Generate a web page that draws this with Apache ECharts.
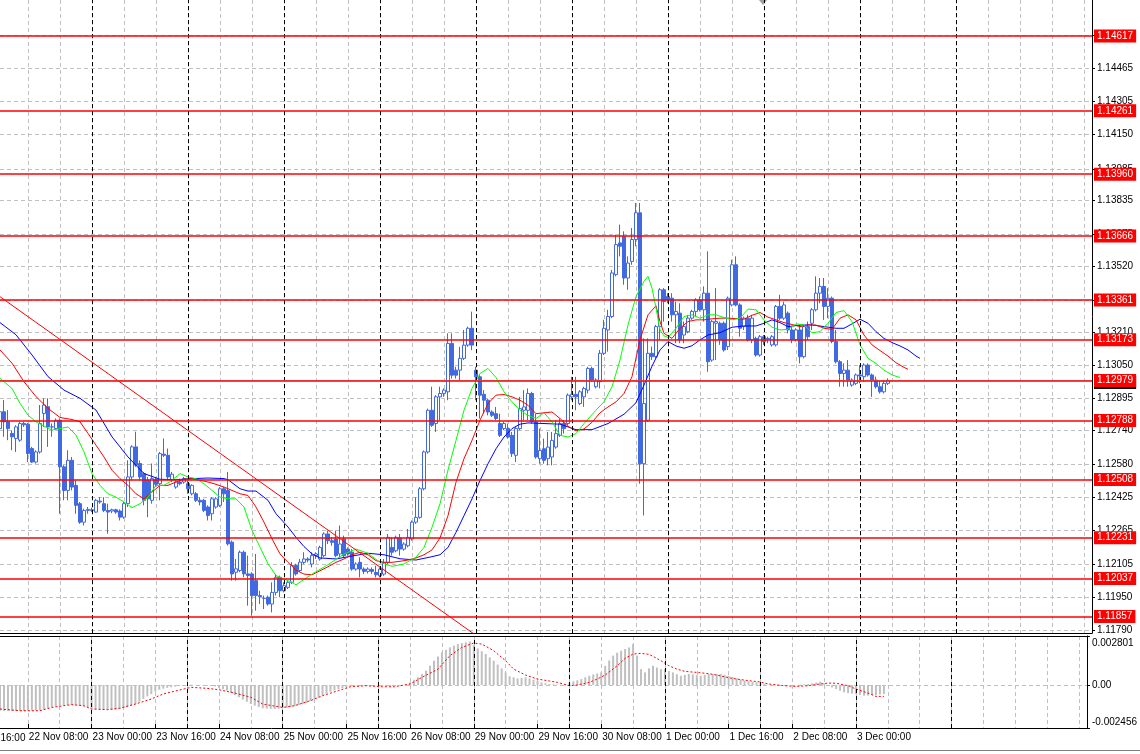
<!DOCTYPE html>
<html><head><meta charset="utf-8">
<script src="https://cdn.jsdelivr.net/npm/echarts@6/dist/echarts.min.js"></script>
<style>html,body{margin:0;padding:0;background:#fff;overflow:hidden}#c{width:1140px;height:754px}</style>
</head><body><div id="c"></div>
<script>
// ---- time axis (H1 bars, index 0 = 22 Nov 01:00) ----
const timeLabels = ['22 Nov 08:00','23 Nov 00:00','23 Nov 16:00','24 Nov 08:00','25 Nov 00:00','25 Nov 16:00','26 Nov 08:00','29 Nov 00:00','29 Nov 16:00','30 Nov 08:00','1 Dec 00:00','1 Dec 16:00','2 Dec 08:00','3 Dec 00:00'];
const timeLabelIdx = [7,23,39,55,71,87,103,119,135,151,167,183,199,215];
const offscreenLabel = '19 Nov 16:00';
const daySeparatorIdx = [23,47,71,95,119,143,167,191,215,239];
const slotCount = 274;

// ---- price axis ----
const priceTicks = [1.11790,1.11950,1.12105,1.12265,1.12425,1.12580,1.12740,1.12895,1.13050,1.13210,1.13360,1.13520,1.13675,1.13835,1.13985,1.14150,1.14305,1.14465,1.14620];
const priceMin = 1.11778, priceMax = 1.14788;
const levels = [1.14617,1.14261,1.13960,1.13666,1.13361,1.13173,1.12979,1.12788,1.12508,1.12231,1.12037,1.11857];
const bidPrice = 1.12979;
const macdTicks = [-0.002456, 0, 0.002801];

// ---- candles ----
const opens = [
1.12750,1.12830,1.12782,1.12727,1.12703,1.12695,1.12774,1.12771,1.12655,1.12591,
1.12639,1.12822,1.12854,1.12758,1.12750,1.12790,1.12568,1.12456,1.12599,1.12480,
1.12393,1.12305,1.12361,1.12364,1.12353,1.12405,1.12393,1.12361,1.12358,1.12364,
1.12358,1.12329,1.12393,1.12520,1.12663,1.12584,1.12536,1.12504,1.12409,1.12507,
1.12488,1.12628,1.12623,1.12507,1.12472,1.12496,1.12496,1.12488,1.12440,1.12440,
1.12409,1.12409,1.12377,1.12345,1.12377,1.12385,1.12464,1.12456,1.12210,1.12067,
1.12075,1.12162,1.12059,1.12059,1.12027,1.11956,1.11943,1.11948,1.11916,1.11971,
1.12043,1.11979,1.11995,1.12019,1.12099,1.12075,1.12114,1.12130,1.12106,1.12146,
1.12130,1.12146,1.12249,1.12217,1.12225,1.12154,1.12225,1.12177,1.12162,1.12082,
1.12114,1.12082,1.12071,1.12080,1.12066,1.12050,1.12058,1.12114,1.12185,1.12169,
1.12230,1.12177,1.12193,1.12225,1.12305,1.12328,1.12464,1.12639,1.12837,1.12774,
1.12901,1.12917,1.12925,1.13155,1.13028,1.13028,1.13084,1.13147,1.13227,1.13028,
1.12996,1.12913,1.12885,1.12829,1.12821,1.12774,1.12750,1.12750,1.12718,1.12623,
1.12750,1.12837,1.12837,1.12917,1.12782,1.12607,1.12654,1.12607,1.12615,1.12662,
1.12718,1.12774,1.12774,1.12901,1.12913,1.12869,1.12901,1.12933,1.13036,1.12949,
1.12973,1.13108,1.13219,1.13283,1.13482,1.13633,1.13664,1.13466,1.13545,1.13649,
1.13776,1.12583,1.12790,1.13108,1.13092,1.13235,1.13410,1.13378,1.13370,1.13291,
1.13299,1.13195,1.13211,1.13275,1.13307,1.13362,1.13315,1.13394,1.13076,1.13251,
1.13251,1.13251,1.13140,1.13338,1.13529,1.13338,1.13235,1.13275,1.13172,1.13179,
1.13100,1.13187,1.13175,1.13148,1.13148,1.13331,1.13275,1.13299,1.13219,1.13172,
1.13219,1.13092,1.13235,1.13251,1.13315,1.13394,1.13426,1.13331,1.13370,1.13164,
1.13068,1.13012,1.13028,1.12957,1.12965,1.13005,1.12997,1.13052,1.13005,1.12981,
1.12949,1.12925,1.12965];
const closes = [
1.12830,1.12782,1.12750,1.12711,1.12758,1.12774,1.12768,1.12631,1.12591,1.12639,
1.12774,1.12862,1.12758,1.12758,1.12790,1.12568,1.12456,1.12599,1.12472,1.12385,
1.12305,1.12361,1.12366,1.12361,1.12409,1.12401,1.12361,1.12353,1.12364,1.12353,
1.12329,1.12393,1.12520,1.12663,1.12576,1.12520,1.12409,1.12416,1.12512,1.12485,
1.12631,1.12623,1.12520,1.12533,1.12496,1.12488,1.12512,1.12464,1.12480,1.12409,
1.12401,1.12361,1.12337,1.12416,1.12416,1.12464,1.12440,1.12202,1.12059,1.12083,
1.12162,1.12059,1.12051,1.11956,1.11956,1.11951,1.11943,1.11916,1.11971,1.12043,
1.11979,1.12003,1.12019,1.12099,1.12059,1.12115,1.12130,1.12125,1.12146,1.12154,
1.12185,1.12249,1.12217,1.12209,1.12146,1.12201,1.12146,1.12154,1.12082,1.12106,
1.12082,1.12071,1.12082,1.12071,1.12055,1.12082,1.12114,1.12233,1.12162,1.12233,
1.12177,1.12201,1.12233,1.12305,1.12328,1.12464,1.12639,1.12837,1.12766,1.12901,
1.12917,1.12933,1.13155,1.13004,1.13004,1.13084,1.13147,1.13227,1.13147,1.12996,
1.12909,1.12885,1.12829,1.12813,1.12798,1.12718,1.12774,1.12710,1.12631,1.12750,
1.12845,1.12853,1.12917,1.12782,1.12615,1.12646,1.12599,1.12662,1.12694,1.12726,
1.12774,1.12750,1.12909,1.12913,1.12901,1.12925,1.12941,1.13036,1.12981,1.12981,
1.13108,1.13227,1.13283,1.13490,1.13625,1.13617,1.13466,1.13537,1.13649,1.13776,
1.12583,1.12869,1.13108,1.13092,1.13235,1.13410,1.13354,1.13362,1.13291,1.13307,
1.13172,1.13235,1.13275,1.13307,1.13362,1.13315,1.13394,1.13068,1.13259,1.13259,
1.13172,1.13124,1.13370,1.13529,1.13338,1.13227,1.13275,1.13172,1.13275,1.13100,
1.13187,1.13164,1.13179,1.13187,1.13331,1.13275,1.13338,1.13219,1.13172,1.13219,
1.13092,1.13235,1.13187,1.13315,1.13394,1.13426,1.13331,1.13370,1.13164,1.13068,
1.13012,1.13028,1.12981,1.12981,1.13005,1.13000,1.13052,1.13005,1.12981,1.12949,
1.12925,1.12965,1.12979];
const lows = [
1.12727,1.12711,1.12695,1.12647,1.12639,1.12687,1.12758,1.12591,1.12586,1.12584,
1.12631,1.12758,1.12663,1.12711,1.12742,1.12345,1.12409,1.12409,1.12456,1.12345,
1.12297,1.12289,1.12345,1.12353,1.12350,1.12393,1.12353,1.12250,1.12348,1.12345,
1.12313,1.12321,1.12377,1.12504,1.12568,1.12504,1.12385,1.12329,1.12393,1.12472,
1.12409,1.12615,1.12504,1.12496,1.12464,1.12480,1.12488,1.12440,1.12432,1.12401,
1.12385,1.12353,1.12313,1.12313,1.12369,1.12377,1.12401,1.12194,1.12027,1.12027,
1.12067,1.12043,1.11908,1.11860,1.11884,1.11916,1.11892,1.11908,1.11876,1.11956,
1.11948,1.11971,1.11987,1.12011,1.12051,1.12067,1.12106,1.12114,1.12090,1.12130,
1.12122,1.12138,1.12201,1.12193,1.12138,1.12138,1.12138,1.12146,1.12074,1.12074,
1.12042,1.12058,1.12061,1.12058,1.12042,1.12042,1.12050,1.12106,1.12146,1.12162,
1.12146,1.12169,1.12185,1.12217,1.12297,1.12321,1.12456,1.12631,1.12758,1.12734,
1.12790,1.12901,1.12885,1.12988,1.12988,1.12980,1.13076,1.13139,1.13123,1.12885,
1.12798,1.12821,1.12813,1.12805,1.12790,1.12710,1.12742,1.12702,1.12615,1.12591,
1.12742,1.12790,1.12790,1.12774,1.12607,1.12583,1.12583,1.12575,1.12575,1.12654,
1.12710,1.12726,1.12766,1.12885,1.12837,1.12861,1.12853,1.12917,1.12973,1.12941,
1.12941,1.13100,1.13116,1.13275,1.13474,1.13569,1.13434,1.13410,1.13529,1.13617,
1.12488,1.12337,1.12782,1.13076,1.13084,1.13172,1.13259,1.13346,1.13259,1.13156,
1.13156,1.13156,1.13203,1.13267,1.13283,1.13307,1.13259,1.13020,1.13068,1.13076,
1.13148,1.13116,1.13124,1.13331,1.13331,1.13187,1.13219,1.13164,1.13156,1.13092,
1.13092,1.13148,1.13156,1.13140,1.13140,1.13267,1.13267,1.13203,1.13156,1.13164,
1.13060,1.13084,1.13172,1.13219,1.13307,1.13346,1.13267,1.13275,1.13156,1.13060,
1.12949,1.12949,1.12949,1.12949,1.12957,1.12965,1.12973,1.12997,1.12901,1.12941,
1.12917,1.12917,1.12957];
const highs = [
1.12854,1.12886,1.12838,1.12742,1.12766,1.12782,1.12782,1.12777,1.12663,1.12647,
1.12862,1.12894,1.12894,1.12774,1.12798,1.12798,1.12576,1.12647,1.12615,1.12504,
1.12401,1.12369,1.12377,1.12374,1.12416,1.12424,1.12424,1.12393,1.12369,1.12369,
1.12366,1.12401,1.12599,1.12671,1.12735,1.12599,1.12544,1.12520,1.12584,1.12520,
1.12639,1.12703,1.12655,1.12544,1.12504,1.12512,1.12520,1.12504,1.12485,1.12448,
1.12424,1.12416,1.12385,1.12424,1.12424,1.12472,1.12472,1.12544,1.12218,1.12130,
1.12170,1.12170,1.12146,1.12067,1.12154,1.11979,1.11956,1.11956,1.12019,1.12059,
1.12051,1.12019,1.12027,1.12115,1.12107,1.12130,1.12162,1.12138,1.12162,1.12162,
1.12193,1.12257,1.12265,1.12233,1.12265,1.12289,1.12241,1.12185,1.12177,1.12114,
1.12138,1.12090,1.12090,1.12090,1.12098,1.12090,1.12130,1.12249,1.12233,1.12241,
1.12249,1.12209,1.12273,1.12313,1.12424,1.12472,1.12646,1.12845,1.12949,1.12909,
1.12949,1.12941,1.13203,1.13203,1.13044,1.13139,1.13219,1.13235,1.13306,1.13044,
1.13004,1.12933,1.12893,1.12837,1.12853,1.12821,1.12782,1.12774,1.12734,1.12758,
1.12901,1.12933,1.12941,1.12925,1.12821,1.12750,1.12702,1.12734,1.12734,1.12790,
1.12798,1.12790,1.12917,1.12996,1.12996,1.12933,1.12949,1.13044,1.13044,1.12989,
1.13124,1.13267,1.13315,1.13505,1.13672,1.13720,1.13688,1.13569,1.13704,1.13823,
1.13823,1.13179,1.13179,1.13140,1.13243,1.13418,1.13418,1.13394,1.13394,1.13354,
1.13346,1.13259,1.13291,1.13315,1.13370,1.13378,1.13426,1.13593,1.13267,1.13418,
1.13259,1.13259,1.13378,1.13553,1.13569,1.13346,1.13283,1.13291,1.13291,1.13187,
1.13195,1.13195,1.13187,1.13195,1.13338,1.13386,1.13354,1.13307,1.13235,1.13227,
1.13243,1.13243,1.13259,1.13323,1.13474,1.13466,1.13466,1.13418,1.13378,1.13219,
1.13076,1.13060,1.13076,1.12989,1.13012,1.13052,1.13060,1.13060,1.13012,1.12997,
1.12981,1.12981,1.12989];

// ---- Alligator-style moving averages, read as [bar index, price] ----
const maGreen = [[0,1.12989],[3,1.12941],[5,1.12870],[7,1.12814],[9,1.12782],[11,1.12762],[13,1.12743],[15,1.12750],[17,1.12758],[19,1.12719],[21,1.12639],[23,1.12536],[25,1.12480],[27,1.12440],[29,1.12424],[31,1.12401],[33,1.12374],[35,1.12393],[37,1.12424],[39,1.12480],[41,1.12480],[43,1.12504],[45,1.12536],[47,1.12520],[49,1.12512],[51,1.12488],[53,1.12456],[55,1.12424],[57,1.12416],[59,1.12416],[61,1.12377],[63,1.12266],[65,1.12186],[67,1.12107],[69,1.12051],[71,1.12035],[73,1.12019],[74,1.12007],[78,1.12058],[82,1.12103],[86,1.12154],[89,1.12177],[92,1.12157],[95,1.12114],[98,1.12095],[101,1.12106],[104,1.12138],[106,1.12185],[108,1.12281],[110,1.12392],[112,1.12553],[114,1.12694],[116,1.12837],[118,1.12941],[120,1.13012],[122,1.13036],[124,1.12993],[126,1.12925],[128,1.12877],[130,1.12837],[132,1.12813],[134,1.12798],[136,1.12825],[138,1.12782],[140,1.12718],[142,1.12710],[144,1.12726],[146,1.12774],[149,1.12838],[151,1.12877],[153,1.12949],[155,1.13076],[157,1.13243],[159,1.13378],[161,1.13450],[162,1.13474],[163,1.13418],[164,1.13323],[165,1.13219],[166,1.13191],[167,1.13184],[169,1.13227],[171,1.13283],[173,1.13291],[175,1.13275],[177,1.13291],[179,1.13291],[181,1.13278],[183,1.13267],[185,1.13275],[187,1.13318],[189,1.13315],[191,1.13267],[193,1.13232],[195,1.13219],[197,1.13222],[199,1.13248],[201,1.13243],[203,1.13206],[205,1.13211],[207,1.13251],[209,1.13302],[211,1.13311],[213,1.13259],[215,1.13148],[217,1.13084],[219,1.13060],[221,1.13028],[223,1.13005],[225,1.12993]];
const maRed = [[0,1.13124],[3,1.13061],[6,1.12973],[9,1.12902],[12,1.12846],[15,1.12803],[18,1.12793],[20,1.12782],[22,1.12727],[24,1.12671],[26,1.12615],[28,1.12552],[30,1.12512],[32,1.12480],[34,1.12440],[36,1.12416],[38,1.12448],[40,1.12480],[42,1.12480],[44,1.12496],[46,1.12509],[48,1.12512],[50,1.12504],[52,1.12496],[54,1.12485],[56,1.12472],[58,1.12456],[60,1.12440],[62,1.12432],[64,1.12377],[66,1.12305],[68,1.12226],[70,1.12154],[72,1.12114],[74,1.12077],[76,1.12058],[78,1.12055],[80,1.12074],[82,1.12093],[84,1.12114],[86,1.12130],[88,1.12150],[90,1.12162],[92,1.12150],[94,1.12122],[96,1.12114],[98,1.12114],[100,1.12119],[102,1.12125],[104,1.12135],[106,1.12150],[108,1.12173],[110,1.12230],[112,1.12336],[114,1.12495],[116,1.12607],[118,1.12694],[120,1.12790],[122,1.12869],[124,1.12909],[126,1.12912],[128,1.12901],[130,1.12885],[132,1.12861],[134,1.12821],[136,1.12825],[138,1.12829],[140,1.12798],[142,1.12761],[144,1.12739],[146,1.12748],[148,1.12780],[150,1.12825],[152,1.12853],[154,1.12877],[156,1.12917],[158,1.12997],[160,1.13172],[162,1.13291],[164,1.13334],[165,1.13259],[166,1.13203],[168,1.13179],[170,1.13227],[172,1.13259],[174,1.13267],[176,1.13267],[178,1.13272],[180,1.13275],[182,1.13275],[184,1.13273],[186,1.13270],[188,1.13289],[190,1.13302],[192,1.13280],[194,1.13267],[196,1.13254],[198,1.13245],[200,1.13235],[202,1.13243],[204,1.13242],[206,1.13227],[208,1.13222],[210,1.13275],[212,1.13291],[214,1.13267],[216,1.13195],[218,1.13148],[220,1.13121],[222,1.13095],[224,1.13063],[226,1.13041],[227,1.13032]];
const maBlue = [[0,1.13254],[4,1.13196],[8,1.13100],[12,1.12997],[16,1.12933],[20,1.12894],[24,1.12838],[28,1.12711],[32,1.12615],[36,1.12536],[40,1.12509],[44,1.12507],[48,1.12512],[52,1.12515],[56,1.12512],[57,1.12507],[60,1.12464],[62,1.12453],[64,1.12453],[67,1.12409],[69,1.12345],[72,1.12282],[74,1.12233],[76,1.12189],[78,1.12154],[80,1.12135],[84,1.12130],[88,1.12144],[92,1.12157],[96,1.12150],[100,1.12131],[104,1.12125],[108,1.12141],[110,1.12150],[112,1.12185],[114,1.12257],[116,1.12336],[118,1.12416],[120,1.12503],[122,1.12583],[124,1.12654],[126,1.12710],[128,1.12750],[130,1.12771],[132,1.12777],[136,1.12774],[140,1.12771],[144,1.12745],[148,1.12745],[152,1.12774],[156,1.12818],[159,1.12873],[161,1.12957],[163,1.13047],[165,1.13124],[167,1.13164],[169,1.13143],[171,1.13132],[173,1.13144],[175,1.13172],[177,1.13195],[180,1.13206],[183,1.13232],[186,1.13238],[189,1.13238],[191,1.13251],[193,1.13267],[195,1.13254],[197,1.13235],[200,1.13242],[203,1.13243],[206,1.13235],[209,1.13227],[211,1.13227],[213,1.13248],[215,1.13270],[217,1.13251],[219,1.13211],[221,1.13179],[223,1.13159],[225,1.13143],[227,1.13124],[229,1.13095],[230,1.13084]];
const trendLine = [[0,1.13377],[120,1.11753]];

// ---- MACD ----
const macdHist = [
-0.00147,-0.00148,-0.00148,-0.00149,-0.00149,-0.00149,-0.00148,-0.00147,-0.00146,-0.00146,-0.00145,
-0.00140,-0.00132,-0.00126,-0.00122,-0.00118,-0.00116,-0.00114,
-0.00114,-0.00116,-0.00119,-0.00122,-0.00127,-0.00132,-0.00137,
-0.00139,-0.00140,-0.00141,-0.00141,-0.00140,-0.00137,-0.00133,-0.00126,-0.00118,
-0.00109,-0.00095,-0.00080,-0.00065,-0.00052,-0.00038,-0.00027,-0.00021,-0.00016,
-0.00013,-0.00009,-0.00006,-0.00004,-0.00002,0.00002,0.00001,0.00000,-0.00002,-0.00004,
-0.00006,-0.00008,-0.00016,-0.00024,-0.00032,-0.00045,-0.00058,-0.00070,
-0.00083,-0.00096,-0.00109,-0.00118,-0.00126,-0.00133,-0.00135,-0.00136,-0.00137,-0.00135,
-0.00133,-0.00131,-0.00127,-0.00122,-0.00116,-0.00110,-0.00103,-0.00092,-0.00081,-0.00070,
-0.00059,-0.00048,-0.00038,-0.00031,-0.00024,-0.00017,-0.00013,-0.00009,-0.00006,-0.00005,-0.00004,-0.00004,
-0.00004,-0.00004,-0.00004,-0.00005,-0.00006,-0.00008,-0.00005,-0.00002,0.00000,0.00007,
0.00015,0.00030,0.00044,0.00063,0.00082,0.00110,0.00139,0.00163,0.00187,0.00201,0.00215,0.00225,0.00234,0.00239,0.00244,0.00248,
0.00228,0.00209,0.00193,0.00177,0.00158,0.00139,0.00117,0.00095,0.00072,0.00050,0.00044,0.00038,0.00041,0.00044,0.00037,0.00030,0.00023,0.00015,0.00010,0.00006,
0.00004,0.00002,0.00002,0.00006,0.00015,0.00021,0.00027,0.00034,0.00044,0.00053,0.00060,0.00066,0.00072,0.00110,0.00140,0.00168,0.00185,0.00196,0.00206,0.00215,0.00234,
0.00168,0.00091,0.00072,0.00095,0.00110,0.00100,0.00091,0.00091,0.00080,0.00072,0.00062,0.00053,0.00058,0.00063,0.00060,0.00056,0.00053,0.00058,0.00063,0.00063,0.00063,
0.00063,0.00058,0.00053,0.00046,0.00039,0.00032,0.00025,0.00021,0.00018,0.00015,0.00010,0.00006,0.00002,0.00001,0.00000,0.00000,0.00000,0.00000,-0.00001,0.00000,
0.00002,0.00004,0.00006,0.00010,0.00015,0.00019,0.00010,-0.00004,-0.00014,-0.00023,-0.00033,-0.00042,-0.00046,-0.00049,-0.00051,-0.00056,-0.00061,-0.00060,-0.00058,-0.00057,-0.00054,-0.00051];
const macdSignal = [[0,-0.00137],[5,-0.00147],[10,-0.00147],[13,-0.00128],[18,-0.00112],[21,-0.00118],[23,-0.00137],[27,-0.00141],[30,-0.00133],[34,-0.00109],[38,-0.00080],[41,-0.00051],[45,-0.00029],[48,-0.00013],[52,-0.00019],[55,-0.00027],[59,-0.00046],[63,-0.00070],[66,-0.00109],[71,-0.00128],[74,-0.00118],[78,-0.00089],[81,-0.00061],[85,-0.00032],[88,-0.00010],[92,-0.00004],[96,-0.00010],[99,-0.00010],[103,0.00006],[106,0.00044],[110,0.00091],[113,0.00168],[116,0.00215],[119,0.00240],[121,0.00234],[124,0.00196],[127,0.00139],[129,0.00091],[132,0.00057],[135,0.00034],[138,0.00023],[140,0.00015],[143,-0.00004],[145,0.0],[148,0.00015],[150,0.00034],[152,0.00057],[155,0.00110],[157,0.00152],[159,0.00177],[161,0.00181],[163,0.00175],[164,0.00164],[166,0.00139],[168,0.00110],[170,0.00091],[172,0.00078],[175,0.00072],[178,0.00065],[180,0.00057],[183,0.00042],[185,0.00034],[188,0.00025],[191,0.00017],[193,0.00006],[197,-0.00004],[200,-0.00008],[203,-0.00004],[206,0.00006],[208,0.00011],[210,0.00010],[213,-0.00004],[215,-0.00023],[218,-0.00046],[220,-0.00065],[222,-0.00065]];

// ---------------- build ----------------
const FONT = 'Liberation Sans';
const cats = new Array(slotCount).fill('');
timeLabelIdx.forEach((k, j) => { cats[k] = timeLabels[j]; });
const labelSet = new Set(timeLabelIdx);
const candles = opens.map((o, i) => [o, closes[i], lows[i], highs[i]]);
const gridV = { show: true, interval: (i) => i % 8 === 7, lineStyle: { color: '#c0c0c0', type: [4, 3], width: 1 } };
const sepLines = daySeparatorIdx.map(k => ({ xAxis: k }));

const chart = echarts.init(document.getElementById('c'), null, { renderer: 'canvas' });
chart.setOption({
  animation: false,
  backgroundColor: '#ffffff',
  grid: [
    { left: 0, right: 48, top: 0, height: 633 },
    { left: 0, right: 48, top: 636, height: 92 }
  ],
  xAxis: [
    { type: 'category', gridIndex: 0, data: cats, boundaryGap: false,
      axisLine: { show: true, onZero: false, lineStyle: { color: '#000', width: 1 } },
      axisTick: { show: false }, axisLabel: { show: false }, splitLine: gridV },
    { type: 'category', gridIndex: 1, data: cats, boundaryGap: false,
      axisLine: { show: true, onZero: false, lineStyle: { color: '#000', width: 1 } },
      axisTick: { show: true, inside: true, length: 4, interval: (i) => labelSet.has(i), lineStyle: { color: '#000' } },
      axisLabel: { show: true, interval: (i) => labelSet.has(i), align: 'left', margin: 4, color: '#000', fontFamily: FONT, fontSize: 10, padding: [0, 0, 0, 1] },
      splitLine: gridV },
    { type: 'category', gridIndex: 1, data: cats, boundaryGap: false, position: 'top',
      axisLine: { show: true, onZero: false, lineStyle: { color: '#000', width: 1 } },
      axisTick: { show: false }, axisLabel: { show: false }, splitLine: { show: false } }
  ],
  yAxis: [
    { type: 'value', gridIndex: 0, position: 'right', min: priceMin, max: priceMax, scale: true,
      axisLine: { show: true, lineStyle: { color: '#000' } },
      axisTick: { show: true, length: 3, customValues: priceTicks, lineStyle: { color: '#000' } },
      axisLabel: { show: true, customValues: priceTicks, margin: 5, color: '#000', fontFamily: FONT, fontSize: 10, formatter: v => v.toFixed(5) },
      splitLine: { show: true, lineStyle: { color: '#c0c0c0', type: [4, 3], width: 1 } } },
    { type: 'value', gridIndex: 1, position: 'right', min: macdTicks[0], max: macdTicks[2],
      axisLine: { show: true, lineStyle: { color: '#000' } },
      axisTick: { show: true, length: 3, customValues: macdTicks, lineStyle: { color: '#000' } },
      axisLabel: { show: true, customValues: macdTicks, margin: 5, color: '#000', fontFamily: FONT, fontSize: 10,
        formatter: v => v > 0 ? '{t|' + v.toFixed(6) + '}' : (v < 0 ? '{b|' + v.toFixed(6) + '}' : '0.00'),
        rich: { t: { padding: [14, 0, 0, 0], fontFamily: FONT, fontSize: 10, color: '#000' },
                b: { padding: [0, 0, 12, 0], fontFamily: FONT, fontSize: 10, color: '#000' } } },
      splitLine: { show: true, lineStyle: { color: '#c0c0c0', type: [4, 3], width: 1 } } }
  ],
  series: [
    { type: 'line', xAxisIndex: 0, yAxisIndex: 0, data: [], z: 1, silent: true,
      markLine: { silent: true, symbol: ['none', 'none'], label: { show: false },
        lineStyle: { color: '#000', type: [4, 3], width: 1 }, data: sepLines } },
    { type: 'line', xAxisIndex: 1, yAxisIndex: 1, data: [], z: 1, silent: true,
      markLine: { silent: true, symbol: ['none', 'none'], label: { show: false },
        lineStyle: { color: '#000', type: [4, 3], width: 1 }, data: sepLines } },
    { name: 'EURUSD', type: 'candlestick', xAxisIndex: 0, yAxisIndex: 0, data: candles, barWidth: 3, z: 3,
      itemStyle: { color: '#ffffff', color0: '#4169e1', borderColor: '#4169e1', borderColor0: '#4169e1', borderWidth: 1 } },
    { type: 'line', xAxisIndex: 0, yAxisIndex: 0, data: maBlue, symbol: 'none', z: 4, lineStyle: { color: '#0000ff', width: 1 } },
    { type: 'line', xAxisIndex: 0, yAxisIndex: 0, data: maRed, symbol: 'none', z: 4, lineStyle: { color: '#ff0000', width: 1 } },
    { type: 'line', xAxisIndex: 0, yAxisIndex: 0, data: maGreen, symbol: 'none', z: 4, lineStyle: { color: '#00ff00', width: 1 } },
    { type: 'line', xAxisIndex: 0, yAxisIndex: 0, data: trendLine, symbol: 'none', z: 4, clip: true, lineStyle: { color: '#ff0000', width: 1 } },
    { type: 'line', xAxisIndex: 0, yAxisIndex: 0, data: [], z: 5, silent: true,
      markLine: { silent: true, precision: 5, symbol: ['none', 'none'],
        lineStyle: { color: '#c0c0c0', type: 'solid', width: 1 },
        label: { show: true, position: 'end', distance: 2, offset: [0, 2], formatter: p => Number(p.value).toFixed(5),
          backgroundColor: '#000', color: '#fff', fontFamily: FONT, fontSize: 10, padding: [2, 3, 1, 3] },
        data: [{ yAxis: bidPrice }] } },
    { type: 'line', xAxisIndex: 0, yAxisIndex: 0, data: [], z: 6, silent: true,
      markLine: { silent: true, precision: 5, symbol: ['none', 'none'],
        lineStyle: { color: '#ff0000', type: 'solid', width: 1.6 },
        label: { show: true, position: 'end', distance: 2, formatter: p => Number(p.value).toFixed(5),
          backgroundColor: '#ff0000', color: '#fff', fontFamily: FONT, fontSize: 10, padding: [2, 3, 1, 3] },
        data: levels.map(v => ({ yAxis: v })) } },
    { type: 'bar', xAxisIndex: 1, yAxisIndex: 1, data: macdHist, barWidth: 2, z: 3, itemStyle: { color: '#c0c0c0' } },
    { type: 'line', xAxisIndex: 1, yAxisIndex: 1, data: macdSignal, symbol: 'none', z: 4, lineStyle: { color: '#ff0000', width: 1, type: [2, 2] } }
  ],
  graphic: [
    { type: 'text', x: -34, y: 733, style: { text: offscreenLabel, fill: '#000', font: '10px "' + FONT + '"' } },
    { type: 'polygon', shape: { points: [[759, 0], [767, 0], [763, 5]] }, style: { fill: '#a0a0a0' } },
    { type: 'line', shape: { x1: 0, y1: 750.5, x2: 1140, y2: 750.5 }, style: { stroke: '#808080', lineWidth: 1 } }
  ]
});
</script></body></html>
